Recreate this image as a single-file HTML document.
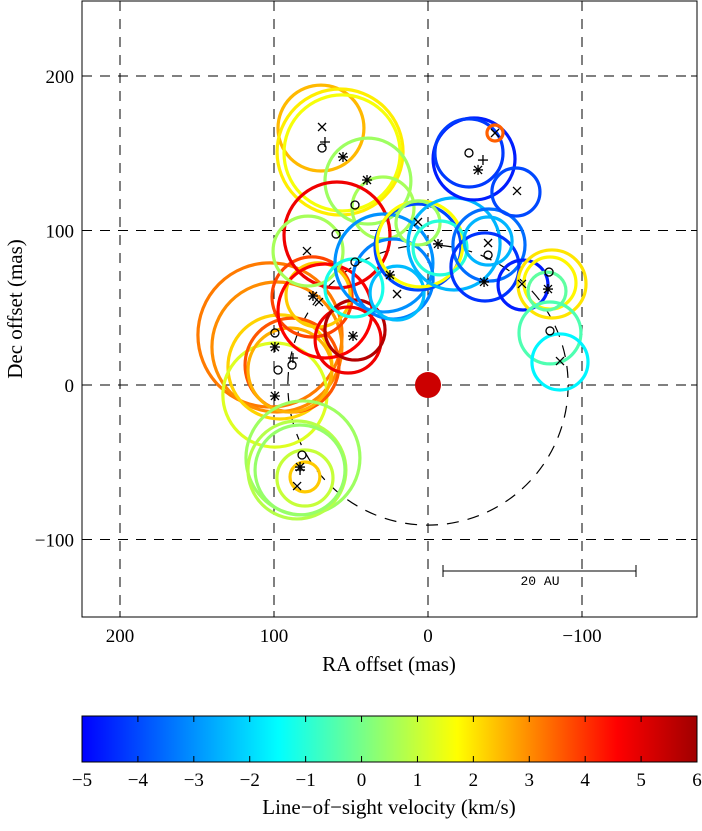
<!DOCTYPE html>
<html><head><meta charset="utf-8"><style>
body{margin:0;background:#fff;}
svg text{font-family:"Liberation Serif",serif;}
</style></head><body>
<svg id="c" width="702" height="826" xmlns="http://www.w3.org/2000/svg">
<defs>
<linearGradient id="jet" x1="0" x2="1" y1="0" y2="0">
<stop offset="0" stop-color="#0000ff"/>
<stop offset="0.32" stop-color="#00ffff"/><stop offset="0.61" stop-color="#ffff00"/>
<stop offset="0.87" stop-color="#ff0000"/><stop offset="1" stop-color="#a00000"/>
</linearGradient>
<clipPath id="pc"><rect x="82" y="1" width="615" height="616"/></clipPath>
</defs>
<rect x="82" y="1" width="615" height="616" fill="#fff" stroke="#000"/>
<g id="grid"></g>
<g id="marks" clip-path="url(#pc)"></g>
<g id="axes"></g>
<g>
<line x1="443" y1="571" x2="636" y2="571" stroke="#000"/>
<line x1="443" y1="565" x2="443" y2="577" stroke="#000"/>
<line x1="636" y1="565" x2="636" y2="577" stroke="#000"/>
<text x="540" y="585" text-anchor="middle" style="font-family:'Liberation Mono',monospace" font-size="13">20 AU</text>
</g>
<text x="389" y="671" text-anchor="middle" font-size="21">RA offset (mas)</text>
<text transform="translate(22,309) rotate(-90)" text-anchor="middle" font-size="21">Dec offset (mas)</text>
<rect x="82" y="716" width="615" height="46" fill="url(#jet)" stroke="#000"/>
<g id="cbar"></g>
<text x="389" y="814" text-anchor="middle" font-size="21">Line−of−sight velocity (km/s)</text>
</svg>
<script>
const circRA=[102.6,98.1,96.1,99.4,88.3,89.6,81.2,85.1,83.1,79.9,79.9,75.3,71.4,66.9,51.9,47.4,69.5,57.1,55.8,39,29.2,59.1,77.9,28.6,22.7,48.1,20.1,6.5,5.2,6.5,-16.9,-7.8,-39.6,-37,-39,-61.7,-29.9,-26.6,-43.5,-57.1,-80.5,-79.2,-77.3,-79.2,-85.7];
const circDec=[32.4,24.6,11.7,-6.5,12.9,9.7,-47.2,-55,-55,-60.2,-59.5,57,58.3,47.9,29.1,35.6,166.3,150.8,150.2,132,114.6,97.1,86.7,79,68.6,62.8,59.5,89.3,91.3,104.9,91.3,88.7,90.6,76.4,93.2,64.7,146.3,150.2,163.1,124.9,65.4,66,60.8,33.7,14.9];
const circR=[46.8,42.2,33.8,33.8,30.5,27.3,37,31.8,29.2,18.2,9.7,26,20.8,30.5,21.4,19.5,27.9,40.9,37.7,27.9,20.1,34.4,22.7,31.8,26,18.8,17.5,27.9,27.9,14.3,29.9,17.5,23.4,22.1,15.6,16.2,26.6,22.1,5.2,15.6,22.1,16.9,12.3,20.1,18.2];
const circVel=[3.2,3,2.2,1.3,3.6,2.6,0.5,0.8,0.4,1,2.3,3.8,2.3,4.6,4.8,5.7,2.5,1.9,1.6,0.5,0.6,4.8,0.6,-3,-3.2,-1.2,-2.4,-4,1.7,0.5,-2.5,-1,-3.5,-4.3,-2.5,-4.6,-4.6,-4.2,3.5,-4,2,1.8,-0.3,-0.5,-1.6];
const oRA=[68.8,47.4,59.7,99.4,97.4,88.3,81.8,-26.6,47.4,-39,-78.6,-79.2];
const oDec=[153.4,116.5,97.7,33.7,9.7,12.9,-45.3,150.2,79.6,84.1,73.1,35];
const xRA=[68.8,-57.8,78.6,6.5,20.1,70.8,-43.5,-39,-61,-85.7,85];
const xDec=[167,125.6,86.7,105.5,58.9,53.7,163.1,91.9,65.4,15.5,-65.4];
const pRA=[66.9,-35.7,87.7,83.1];
const pDec=[157.3,145.6,17.5,-55];
const sRA=[55.2,39.6,-6.5,-32.5,-36.4,-77.9,99.4,99.4,48.7,83.1,24.7,74.7];
const sDec=[147.6,132.7,91.3,139.2,66.7,62.1,24.6,-7.1,31.7,-53.1,71.2,57.6];
const xTicks=[200,100,0,-100];
const yTicks=[200,100,0,-100];
const cTicks=[-5,-4,-3,-2,-1,0,1,2,3,4,5,6];

const NS="http://www.w3.org/2000/svg";
const X=ra=>428-1.54*ra, Y=d=>385-1.545*d, S=r=>1.54*r;
const CX=v=>82+(v+5)/11*615;
function mk(t,a,p){const e=document.createElementNS(NS,t);for(const k in a)e.setAttribute(k,a[k]);p.appendChild(e);return e;}
const stops=[[0,[0,0,255]],[0.32,[0,255,255]],[0.61,[255,255,0]],[0.87,[255,0,0]],[1,[160,0,0]]];
function jet(v){const t=Math.max(0,Math.min(1,(v+5)/11));
 for(let i=0;i<stops.length-1;i++){const [a,ca]=stops[i],[b,cb]=stops[i+1];
  if(t<=b){const f=(t-a)/(b-a);return `rgb(${ca.map((c,k)=>Math.round(c+(cb[k]-c)*f)).join(',')})`;}}
 return 'rgb(160,0,0)';}
const grid=document.getElementById('grid'),marks=document.getElementById('marks'),axes=document.getElementById('axes'),cbar=document.getElementById('cbar');
xTicks.forEach(v=>{const l=mk('line',{x1:X(v),x2:X(v),y1:1,y2:617,stroke:'#000','stroke-dasharray':'10,8'},grid);
 
 const t=mk('text',{x:X(v),y:642,'text-anchor':'middle','font-size':19},axes);t.textContent=v<0?'−'+(-v):v;
 
 mk('line',{x1:X(v),x2:X(v),y1:617,y2:611,stroke:'#000'},axes);mk('line',{x1:X(v),x2:X(v),y1:1,y2:7,stroke:'#000'},axes);});
yTicks.forEach(v=>{const l=mk('line',{x1:82,x2:697,y1:Y(v),y2:Y(v),stroke:'#000','stroke-dasharray':'10,8'},grid);
 
 const t=mk('text',{x:74,y:Y(v)+7,'text-anchor':'end','font-size':19},axes);t.textContent=v<0?'−'+(-v):v;
 
 mk('line',{x1:82,x2:88,y1:Y(v),y2:Y(v),stroke:'#000'},axes);mk('line',{x1:697,x2:691,y1:Y(v),y2:Y(v),stroke:'#000'},axes);});
const orb=mk('circle',{cx:X(0),cy:Y(0),r:S(91),fill:'none',stroke:'#000','stroke-width':1.2,'stroke-dasharray':'12,9'},marks);

circRA.forEach((ra,i)=>{const c=mk('circle',{cx:X(ra),cy:Y(circDec[i]),r:S(circR[i]),fill:'none',stroke:jet(circVel[i]),'stroke-width':3.2},marks);
 });
const star=mk('circle',{cx:X(0),cy:Y(0),r:13,fill:'#cc0000'},marks);

const st={stroke:'#000','stroke-width':1.3,fill:'none'};
oRA.forEach((ra,i)=>{const e=mk('circle',Object.assign({cx:X(ra),cy:Y(oDec[i]),r:4},st),marks);
 });
xRA.forEach((ra,i)=>{const x=X(ra),y=Y(xDec[i]);const e=mk('path',Object.assign({d:`M${x-4},${y-4}L${x+4},${y+4}M${x-4},${y+4}L${x+4},${y-4}`},st),marks);
 });
pRA.forEach((ra,i)=>{const x=X(ra),y=Y(pDec[i]);const e=mk('path',Object.assign({d:`M${x-5},${y}L${x+5},${y}M${x},${y-5}L${x},${y+5}`},st),marks);
 });
sRA.forEach((ra,i)=>{const x=X(ra),y=Y(sDec[i]);const e=mk('path',Object.assign({d:`M${x-5},${y}L${x+5},${y}M${x},${y-5}L${x},${y+5}M${x-4},${y-4}L${x+4},${y+4}M${x-4},${y+4}L${x+4},${y-4}`},st),marks);
 });
cTicks.forEach(v=>{mk('line',{x1:CX(v),x2:CX(v),y1:762,y2:756,stroke:'#000'},cbar);mk('line',{x1:CX(v),x2:CX(v),y1:716,y2:722,stroke:'#000'},cbar);
 const t=mk('text',{x:CX(v),y:786,'text-anchor':'middle','font-size':19},cbar);t.textContent=v<0?'−'+(-v):v;
 });
</script>
</body></html>
